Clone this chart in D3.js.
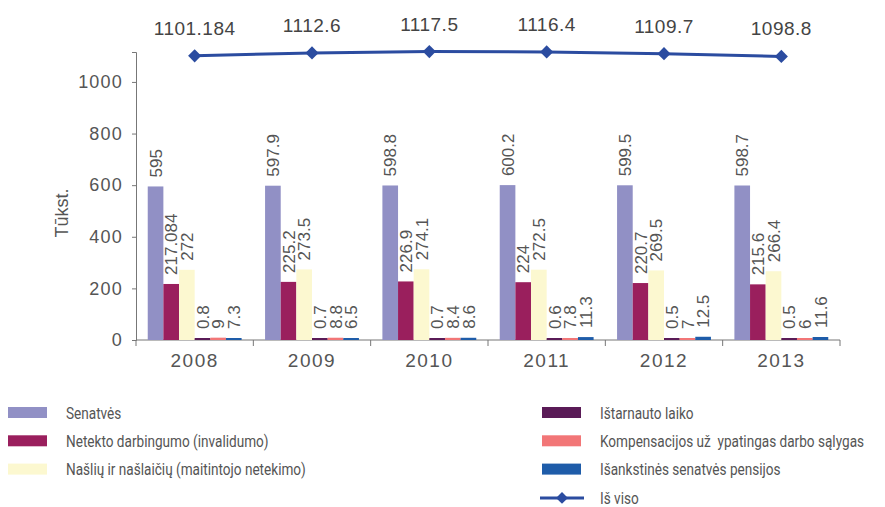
<!DOCTYPE html>
<html>
<head>
<meta charset="utf-8">
<script src="https://cdn.jsdelivr.net/npm/d3@7"></script>
<style>
  body { margin: 0; background: #fff; }
</style>
</head>
<body>
<div id="chart"></div>
<script>
// data
var years = ["2008", "2009", "2010", "2011", "2012", "2013"];
var seriesNames = [
    "Senatvės",
    "Netekto darbingumo (invalidumo)",
    "Našlių ir našlaičių (maitintojo netekimo)",
    "Ištarnauto laiko",
    "Kompensacijos už  ypatingas darbo sąlygas",
    "Išankstinės senatvės pensijos"
];
var senatves = [595, 597.9, 598.8, 600.2, 599.5, 598.7];
var netekto = [217.084, 225.2, 226.9, 224, 220.7, 215.6];
var nasliu = [272, 273.5, 274.1, 272.5, 269.5, 266.4];
var istarnauto = [0.8, 0.7, 0.7, 0.6, 0.5, 0.5];
var kompensacijos = [9, 8.8, 8.4, 7.8, 7, 6];
var isankstines = [7.3, 6.5, 8.6, 11.3, 12.5, 11.6];
var isViso = [1101.184, 1112.6, 1117.5, 1116.4, 1109.7, 1098.8];
var totalName = "Iš viso";
var yTicks = [0, 200, 400, 600, 800, 1000];

var colors = ["#9190c5", "#9a1f5d", "#fcf8d0", "#5a1b57", "#f27677", "#1e5ca9"];
var lineColor = "#2b4ca0";
var textFont = "'Liberation Sans', Arial, sans-serif";

var allSeries = [senatves, netekto, nasliu, istarnauto, kompensacijos, isankstines];

var svgWidth = 885, svgHeight = 507;
var margin = { top: 52, left: 136, right: 45, bottom: 167 };
var width = svgWidth - margin.left - margin.right;
var height = svgHeight - margin.top - margin.bottom;

var svg = d3.select("#chart").append("svg")
    .attr("width", svgWidth)
    .attr("height", svgHeight);

var chartGroup = svg.append("g")
    .attr("transform", `translate(${margin.left}, ${margin.top})`);

// scales
var x0 = d3.scaleBand().domain(years).range([0, width]).paddingInner(0).paddingOuter(0);
var x1 = d3.scaleBand().domain(d3.range(seriesNames.length))
    .range([0, x0.bandwidth()]).paddingOuter(0.75).paddingInner(0);
var y = d3.scaleLinear().domain([0, 1116]).range([height, 0]);

// axes
var yAxisG = chartGroup.append("g")
    .call(d3.axisLeft(y).tickValues(yTicks).tickSize(4).tickPadding(9).tickFormat(d3.format("d")));
yAxisG.selectAll("path, line").attr("stroke", "#777");
yAxisG.selectAll("text")
    .style("font-family", textFont)
    .style("font-size", "18px")
    .style("letter-spacing", "1.2px")
    .style("fill", "#555");

var xAxisG = chartGroup.append("g")
    .attr("transform", `translate(0, ${height})`)
    .call(d3.axisBottom(x0).tickSize(0).tickPadding(14));
xAxisG.select(".domain").remove();
xAxisG.selectAll("text")
    .style("font-family", textFont)
    .style("font-size", "19px")
    .style("letter-spacing", "1.5px")
    .style("fill", "#555");
xAxisG.append("line").attr("x1", 0).attr("x2", width).attr("stroke", "#777");
xAxisG.selectAll(".sep")
    .data(d3.range(years.length + 1))
    .enter()
    .append("line")
    .attr("x1", d => d * x0.bandwidth())
    .attr("x2", d => d * x0.bandwidth())
    .attr("y1", 0)
    .attr("y2", 6)
    .attr("stroke", "#777");

// bars
var groups = chartGroup.selectAll(".year")
    .data(years)
    .enter()
    .append("g")
    .attr("transform", d => `translate(${x0(d)}, 0)`);

groups.each(function (yr, i) {
    var g = d3.select(this);
    allSeries.forEach(function (s, k) {
        var v = s[i];
        var h = Math.max(height - y(v), 2);
        g.append("rect")
            .attr("x", x1(k))
            .attr("y", height - h)
            .attr("width", x1.bandwidth())
            .attr("height", h)
            .attr("fill", colors[k]);
        var cx = x1(k) + x1.bandwidth() / 2;
        g.append("text")
            .attr("transform", `translate(${cx}, ${height - h - 9}) rotate(-90)`)
            .attr("dy", "0.36em")
            .style("font-family", textFont)
            .style("font-size", "17px")
            .style("fill", "#555")
            .text(v);
    });
});

// total line
var line = d3.line()
    .x((d, i) => x0(years[i]) + x0.bandwidth() / 2)
    .y(d => y(d));

chartGroup.append("path")
    .datum(isViso)
    .attr("fill", "none")
    .attr("stroke", lineColor)
    .attr("stroke-width", 3)
    .attr("d", line);

chartGroup.selectAll(".pt")
    .data(isViso)
    .enter()
    .append("path")
    .attr("d", d3.symbol().type(d3.symbolDiamond2).size(110))
    .attr("transform", (d, i) => `translate(${x0(years[i]) + x0.bandwidth() / 2}, ${y(d)})`)
    .attr("fill", lineColor);

chartGroup.selectAll(".tl")
    .data(isViso)
    .enter()
    .append("text")
    .attr("x", (d, i) => x0(years[i]) + x0.bandwidth() / 2)
    .attr("y", d => y(d) - 21)
    .attr("text-anchor", "middle")
    .style("font-family", textFont)
    .style("font-size", "19px")
    .style("letter-spacing", "0.5px")
    .style("fill", "#444")
    .text(d => d);

// y axis title
svg.append("text")
    .attr("transform", `translate(68, 213) rotate(-90)`)
    .attr("text-anchor", "middle")
    .style("font-family", textFont)
    .style("font-size", "18px")
    .style("fill", "#555")
    .text("Tūkst.");

// legend
var legendItems = seriesNames.map((n, k) => ({ name: n, color: colors[k], line: false }));
legendItems.push({ name: totalName, color: lineColor, line: true });

var legend = svg.selectAll(".legend")
    .data(legendItems)
    .enter()
    .append("g")
    .attr("transform", function (d, i) {
        var col = i < 3 ? 0 : 1;
        var row = i < 3 ? i : i - 3;
        return `translate(${col ? 542 : 8}, ${413 + row * 28.3})`;
    });

legend.filter(d => !d.line).append("rect")
    .attr("y", -6)
    .attr("width", 39)
    .attr("height", 11)
    .attr("fill", d => d.color);

legend.filter(d => d.line).append("line")
    .attr("x1", -2).attr("x2", 42)
    .attr("stroke", d => d.color)
    .attr("stroke-width", 3);
legend.filter(d => d.line).append("path")
    .attr("d", d3.symbol().type(d3.symbolDiamond2).size(90))
    .attr("transform", "translate(20, 0)")
    .attr("fill", d => d.color);

// condensed look: squeeze the legend text horizontally
legend.append("text")
    .attr("transform", "translate(58, 0) scale(0.8, 1)")
    .attr("dy", "0.34em")
    .style("font-family", "Roboto, 'Noto Sans', sans-serif")
    .style("font-size", "17px")
    .style("white-space", "pre")
    .style("fill", "#555")
    .text(d => d.name);
</script>
</body>
</html>
